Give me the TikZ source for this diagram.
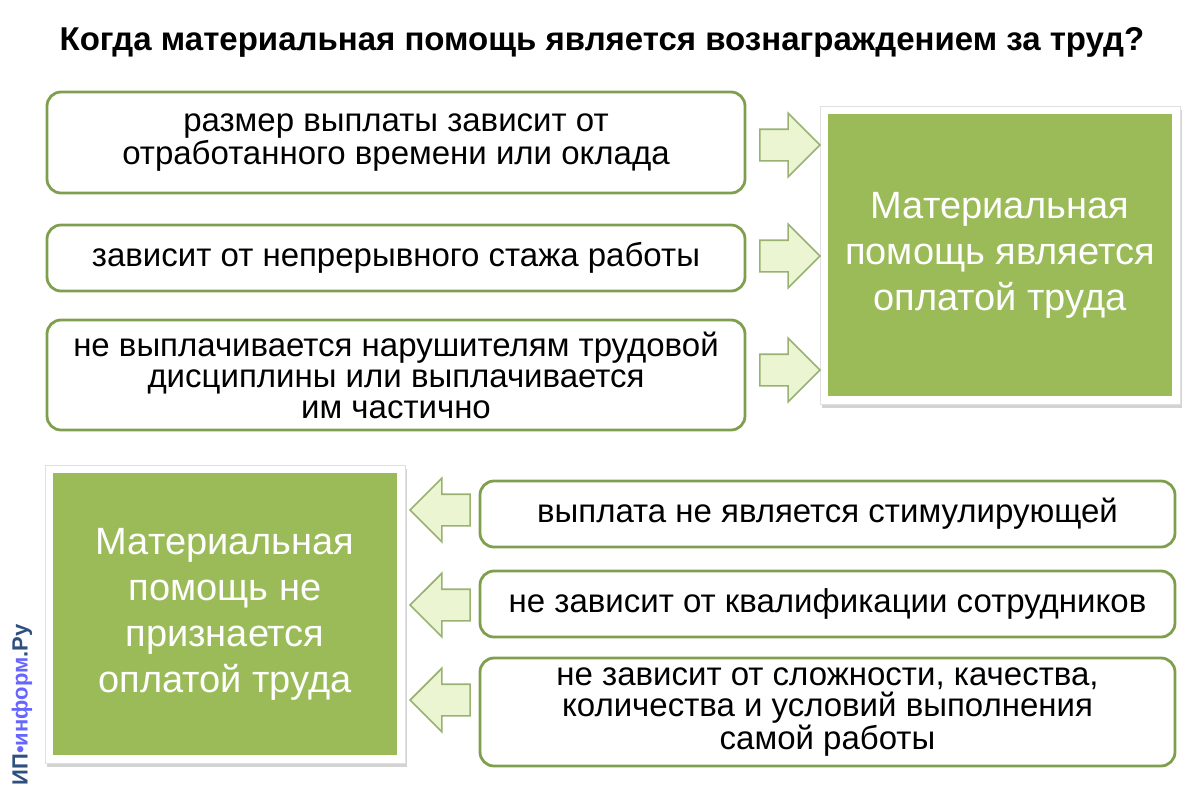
\documentclass[tikz,border=0pt]{standalone}
\usepackage{fontspec}
\setmainfont{Liberation Sans}
\usetikzlibrary{shapes.arrows, shadows}
\definecolor{olive}{HTML}{7F9F4F}
\definecolor{leaf}{HTML}{9BBB59}
\definecolor{pale}{HTML}{EBF5D2}
\definecolor{mark}{HTML}{2F4F7F}

\tikzset{
  reason/.style={draw=olive, line width=1.4pt, rounded corners=7pt, fill=white, align=center,
    minimum width=349pt, font=\fontsize{16.5}{15.5}\selectfont, inner sep=0pt},
  frame/.style={draw=black!12, fill=white, minimum width=180pt, minimum height=149pt,
    drop shadow={opacity=0.35, shadow xshift=1pt, shadow yshift=-2pt}},
  verdict/.style={fill=leaf, minimum width=172pt, minimum height=141pt, align=center,
    text=white, font=\fontsize{19}{23}\selectfont},
  pointer/.style={single arrow, draw=olive!80, fill=pale, line width=0.8pt,
    minimum height=30pt, minimum width=31pt, single arrow head extend=8pt, inner sep=7.5pt}
}

\begin{document}
\begin{tikzpicture}[x=0.5pt, y=-0.5pt]
  \useasboundingbox (0,0) rectangle (1200,800);

  \node (title) at (602,42) {\fontsize{16.5}{18}\selectfont\bfseries Когда материальная помощь является вознаграждением за труд?};

  % upper block
  \node (pay) [reason, minimum height=50.5pt] at (396,142.5) {размер выплаты зависит от\\отработанного времени или оклада};
  \node (stage) [reason, minimum height=33pt] at (396,258) {зависит от непрерывного стажа работы};
  \node (rules) [reason, minimum height=55pt] at (396,375) {не выплачивается нарушителям трудовой\\дисциплины или выплачивается\\им частично};

  \node (yesframe) [frame] at (1000,255) {};
  \node (yes) [verdict] at (1000,255) {Материальная\\помощь является\\оплатой труда};

  \node (a1) [pointer] at (782,145) {};
  \node (a2) [pointer] at (782,256) {};
  \node (a3) [pointer] at (782,370) {};

  % lower block
  \node (bonus) [reason, minimum height=33pt, minimum width=347.5pt] at (827.5,514) {выплата не является стимулирующей};
  \node (skill) [reason, minimum height=33pt, minimum width=347.5pt] at (827.5,604) {не зависит от квалификации сотрудников};
  \node (work) [reason, minimum height=54pt, minimum width=347.5pt] at (827.5,712) {не зависит от сложности, качества,\\количества и условий выполнения\\самой работы};

  \node (noframe) [frame] at (225,614) {};
  \node (no) [verdict] at (225,614) {Материальная\\помощь не\\признается\\оплатой труда};

  \node (b1) [pointer, shape border rotate=180] at (448,510) {};
  \node (b2) [pointer, shape border rotate=180] at (448,605) {};
  \node (b3) [pointer, shape border rotate=180] at (448,700) {};

  \node (brand) [rotate=90, text=mark, font=\fontsize{11}{12}\selectfont\bfseries] at (22,705) {ИП{\color{blue!60}•информ}.Ру};
\end{tikzpicture}
\end{document}
